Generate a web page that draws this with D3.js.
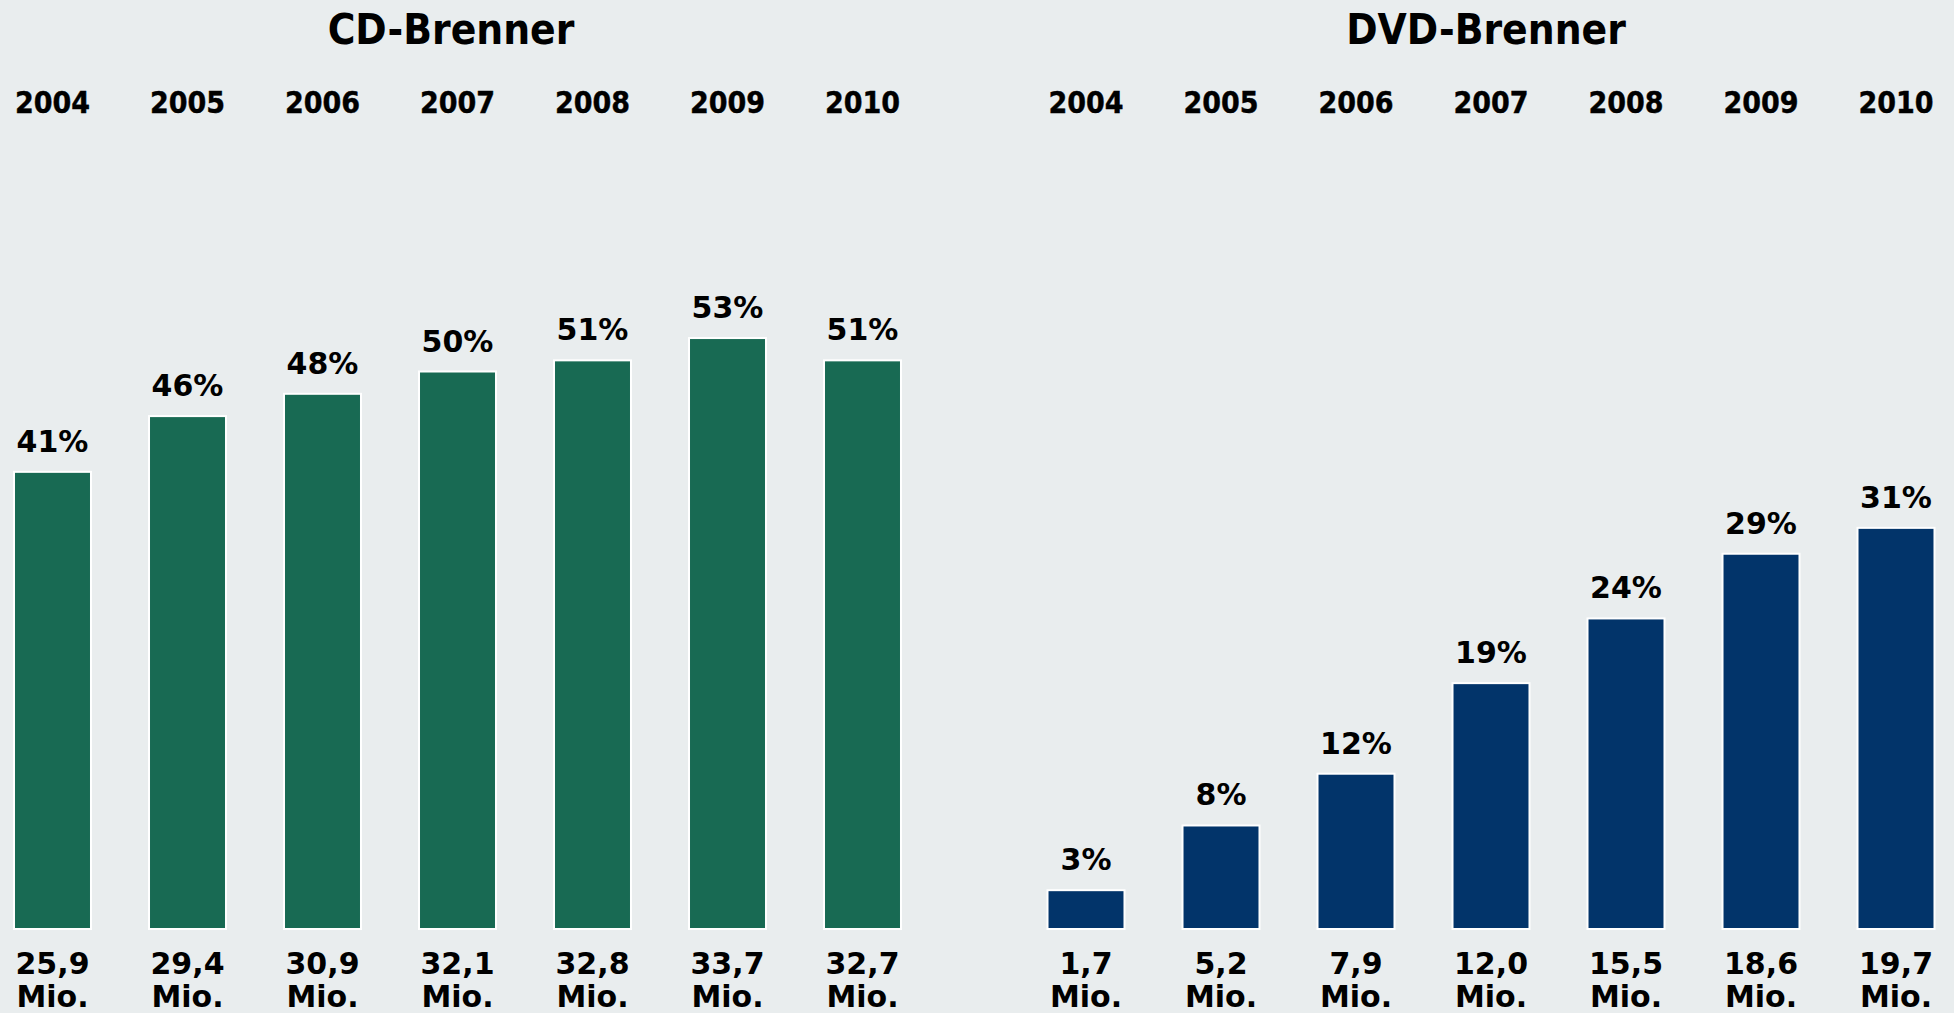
<!DOCTYPE html>
<html>
<head>
<meta charset="utf-8">
<script src="https://cdn.jsdelivr.net/npm/d3@7"></script>
<style>
  html, body { margin: 0; padding: 0; background: #e9edee; }
  svg { display: block; }
  .title, .year { font-family: "DejaVu Sans Condensed", "DejaVu Sans", sans-serif; font-weight: bold; font-stretch: condensed; }
  .pct, .mio { font-family: "DejaVu Sans", sans-serif; font-weight: bold; }
</style>
</head>
<body>
<svg width="1954" height="1013"></svg>
<script>
const years = ["2004", "2005", "2006", "2007", "2008", "2009", "2010"];
const cdShare = [41, 46, 48, 50, 51, 53, 51];
const cdUnits = ["25,9", "29,4", "30,9", "32,1", "32,8", "33,7", "32,7"];
const dvdShare = [3, 8, 12, 19, 24, 29, 31];
const dvdUnits = ["1,7", "5,2", "7,9", "12,0", "15,5", "18,6", "19,7"];

const svg = d3.select("svg");
const baseY = 929;
const topY = 260;

const panels = [
    {title: "CD-Brenner", share: cdShare, units: cdUnits, color: "#186a53", x0: -15, yMax: 60, titleX: 451},
    {title: "DVD-Brenner", share: dvdShare, units: dvdUnits, color: "#02346a", x0: 1018.5, yMax: 51.7, titleX: 1486}
];

panels.forEach(p => {
    const x = d3.scaleBand()
        .domain(years)
        .range([p.x0, p.x0 + 945])
        .paddingInner(0.415)
        .paddingOuter(0.2075);
    const y = d3.scaleLinear().domain([0, p.yMax]).range([baseY, topY]);
    const data = years.map((yr, i) => ({year: yr, share: p.share[i], units: p.units[i]}));

    const g = svg.append("g");

    g.append("text")
        .attr("class", "title")
        .attr("x", p.titleX)
        .attr("y", 44)
        .attr("text-anchor", "middle")
        .attr("font-size", 42)
        .text(p.title);

    g.selectAll(".year")
        .data(data)
        .join("text")
        .attr("class", "year")
        .attr("x", d => x(d.year) + x.bandwidth() / 2)
        .attr("y", 113)
        .attr("text-anchor", "middle")
        .attr("font-size", 30)
        .attr("stroke", "#000")
        .attr("stroke-width", 0.4)
        .text(d => d.year);

    g.selectAll(".bar")
        .data(data)
        .join("rect")
        .attr("class", "bar")
        .attr("x", d => x(d.year) + 1)
        .attr("width", x.bandwidth() - 2)
        .attr("y", d => y(d.share))
        .attr("height", d => baseY - y(d.share))
        .attr("fill", p.color)
        .attr("stroke", "#ffffff")
        .attr("stroke-width", 2);

    g.selectAll(".pct")
        .data(data)
        .join("text")
        .attr("class", "pct")
        .attr("x", d => x(d.year) + x.bandwidth() / 2)
        .attr("y", d => y(d.share) - 20)
        .attr("text-anchor", "middle")
        .attr("font-size", 30)
        .text(d => d.share + "%");

    const mio = g.selectAll(".mio")
        .data(data)
        .join("text")
        .attr("class", "mio")
        .attr("text-anchor", "middle")
        .attr("font-size", 30);
    mio.append("tspan")
        .attr("x", d => x(d.year) + x.bandwidth() / 2)
        .attr("y", 974)
        .text(d => d.units);
    mio.append("tspan")
        .attr("x", d => x(d.year) + x.bandwidth() / 2)
        .attr("y", 1007)
        .text("Mio.");
});
</script>
</body>
</html>
